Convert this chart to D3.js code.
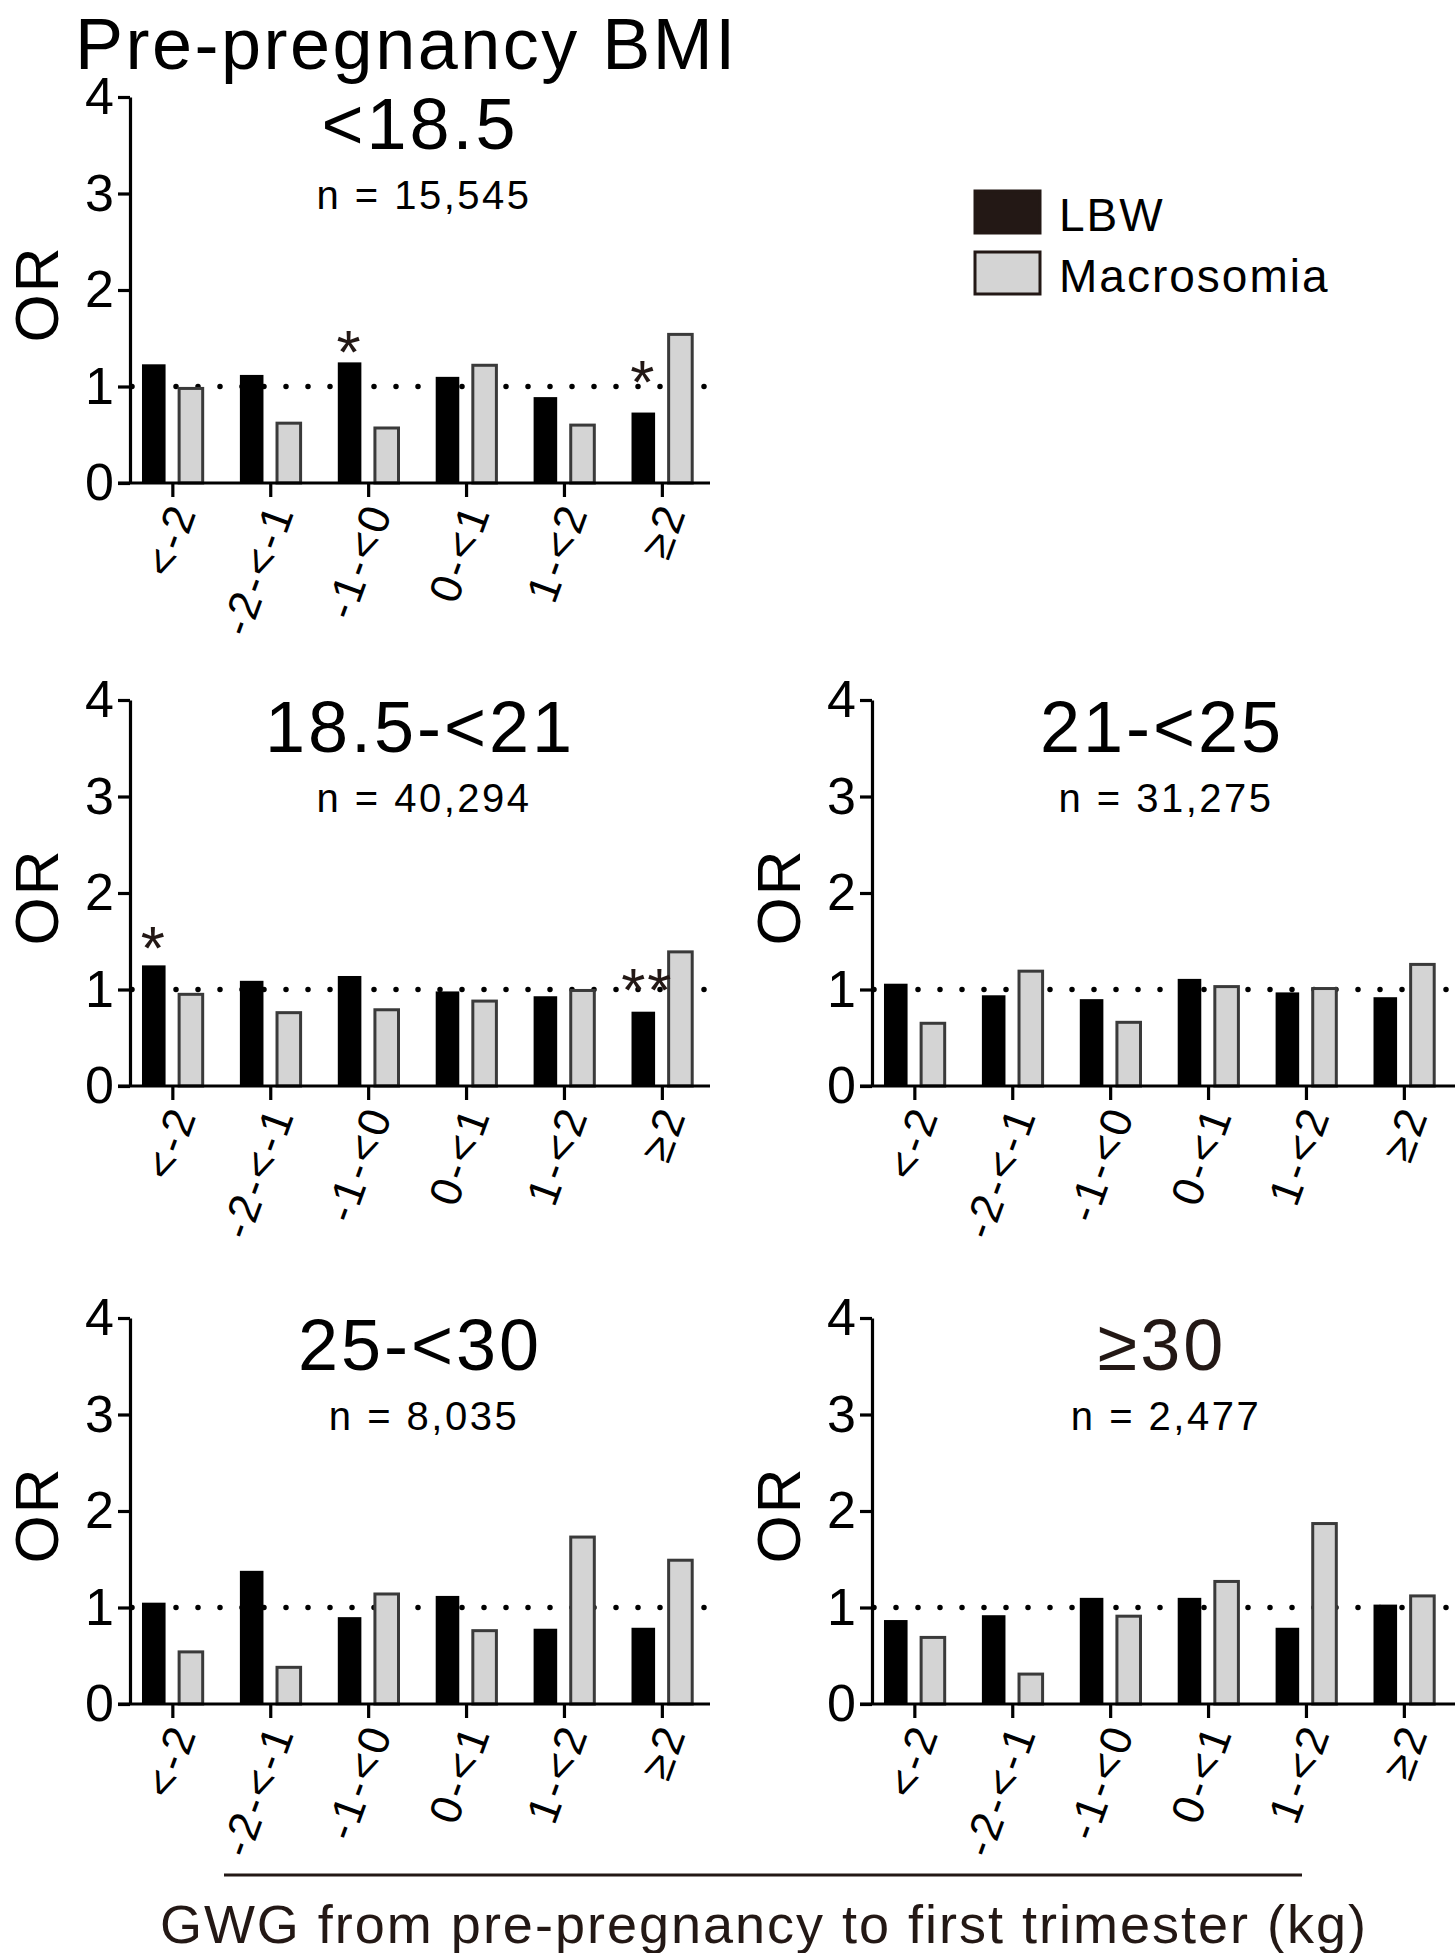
<!DOCTYPE html>
<html>
<head>
<meta charset="utf-8">
<script src="https://cdn.jsdelivr.net/npm/d3@7"></script>
<style>
  body { margin: 0; background: #fff; }
  text { font-family: "Liberation Sans", Arial, sans-serif; }
</style>
</head>
<body>
<svg id="chart" width="1455" height="1953"></svg>
<script>
// categories of gestational weight gain (kg)
var categories = ["<-2", "-2-<-1", "-1-<0", "0-<1", "1-<2", "≥2"];
var series = ["LBW", "Macrosomia"];
var yTicks = [0, 1, 2, 3, 4];

// one entry per BMI panel
var panelTitles = ["<18.5", "18.5-<21", "21-<25", "25-<30", "≥30"];
var panelN = ["n = 15,545", "n = 40,294", "n = 31,275", "n = 8,035", "n = 2,477"];

// odds ratios
var lbwOR = [
  [1.23, 1.12, 1.25, 1.10, 0.89, 0.73],
  [1.25, 1.09, 1.14, 0.98, 0.93, 0.77],
  [1.06, 0.94, 0.90, 1.11, 0.97, 0.92],
  [1.05, 1.38, 0.90, 1.12, 0.78, 0.79],
  [0.87, 0.92, 1.10, 1.10, 0.79, 1.03]
];
var macroOR = [
  [0.98, 0.62, 0.57, 1.22, 0.60, 1.54],
  [0.95, 0.76, 0.79, 0.88, 0.99, 1.39],
  [0.65, 1.19, 0.66, 1.03, 1.01, 1.26],
  [0.54, 0.38, 1.14, 0.76, 1.73, 1.49],
  [0.69, 0.31, 0.91, 1.27, 1.87, 1.12]
];

// significance marks: panel index, category, mark, OR level of the mark
var starPanel = [0, 0, 1, 1];
var starCat = ["-1-<0", "≥2", "<-2", "≥2"];
var starText = ["*", "*", "*", "**"];
var starLevel = [1.51, 1.2, 1.58, 1.15];

var svg = d3.select("#chart");
var W = 580, H = 386;
var origins = [[130, 97], [130, 700], [872, 700], [130, 1318], [872, 1318]];
var ink = "#231815";

var x = d3.scalePoint().domain(categories).range([0.073 * W, 0.917 * W]);
var step = x.step();
var xs = d3.scaleBand().domain(series).range([-0.31 * step, 0.31 * step]).paddingInner(0.365);
var y = d3.scaleLinear().domain([0, 4]).range([H, 0]);

panelTitles.forEach(function(title, p) {
  var g = svg.append("g").attr("transform", "translate(" + origins[p][0] + "," + origins[p][1] + ")");
  // right-hand panels run to the edge of the figure
  var xEnd = origins[p][0] > 500 ? 1455 - origins[p][0] : W;

  // dotted reference line at OR = 1
  g.append("line")
      .attr("x1", 2).attr("x2", xEnd)
      .attr("y1", y(1)).attr("y2", y(1))
      .attr("stroke", "#000")
      .attr("stroke-width", 5.5)
      .attr("stroke-linecap", "round")
      .attr("stroke-dasharray", "0 22");

  var rows = categories.map(function(c, i) {
    return [{cat: c, s: "LBW", v: lbwOR[p][i]}, {cat: c, s: "Macrosomia", v: macroOR[p][i]}];
  });

  g.selectAll(".bar")
    .data(d3.merge(rows))
    .join("rect")
      .attr("x", d => x(d.cat) + xs(d.s))
      .attr("width", xs.bandwidth())
      .attr("y", d => y(d.v))
      .attr("height", d => y(0) - y(d.v))
      .attr("fill", d => d.s == "LBW" ? "#000" : "#d4d4d4")
      .attr("stroke", d => d.s == "LBW" ? "none" : "#3a3a3a")
      .attr("stroke-width", 3);

  // y axis
  g.append("g")
      .call(d3.axisLeft(y).tickValues(yTicks).tickFormat(d3.format("d"))
          .tickSize(12).tickPadding(4).tickSizeOuter(0))
      .call(g => g.select(".domain").attr("stroke-width", 3.2))
      .call(g => g.selectAll(".tick line").attr("stroke-width", 3.2))
      .call(g => g.selectAll(".tick text")
          .attr("font-size", 52)
          .attr("font-family", "Liberation Sans, Arial, sans-serif")
          .attr("fill", "#000"));

  // x axis
  g.append("g")
      .attr("transform", "translate(0," + H + ")")
      .call(d3.axisBottom(x).tickSize(14).tickSizeOuter(0))
      .call(g => g.select(".domain").remove())
      .call(g => g.selectAll(".tick line").attr("stroke-width", 3.2))
      .call(g => g.selectAll(".tick text")
          .attr("font-size", 44)
          .attr("font-family", "Liberation Sans, Arial, sans-serif")
          .attr("letter-spacing", 3)
          .attr("fill", "#000")
          .attr("text-anchor", "end")
          .attr("y", 0)
          .attr("dy", "0.35em")
          .attr("transform", "translate(10,22) rotate(-70)"));
  g.append("line")
      .attr("x1", -12).attr("x2", xEnd)
      .attr("y1", H).attr("y2", H)
      .attr("stroke", "#000").attr("stroke-width", 3.2);

  // OR label
  g.append("text")
      .attr("transform", "translate(" + (-72) + "," + (H / 2 + 4) + ") rotate(-90)")
      .attr("text-anchor", "middle")
      .attr("font-size", 62)
      .attr("letter-spacing", 2)
      .text("OR");

  // panel title and sample size
  g.append("text")
      .attr("x", W / 2).attr("y", 52)
      .attr("text-anchor", "middle")
      .attr("font-size", 72)
      .attr("letter-spacing", 3)
      .attr("fill", p == 4 ? ink : "#000")
      .text(title);
  g.append("text")
      .attr("x", W / 2 + 4).attr("y", 112)
      .attr("text-anchor", "middle")
      .attr("font-size", 40)
      .attr("letter-spacing", 2.5)
      .text(panelN[p]);

  // significance stars
  starPanel.forEach(function(sp, k) {
    if (sp != p) return;
    g.append("text")
        .attr("x", x(starCat[k]) + xs("LBW") + xs.bandwidth() / 2 + (starText[k].length > 1 ? 4 : 0))
        .attr("y", y(starLevel[k]))
        .attr("dy", "0.58em")
        .attr("text-anchor", "middle")
        .attr("font-size", 62)
        .attr("letter-spacing", 2)
        .attr("fill", ink)
        .text(starText[k]);
  });
});

// overall title
svg.append("text")
    .attr("x", 75).attr("y", 69)
    .attr("font-size", 72)
    .attr("letter-spacing", 2.5)
    .text("Pre-pregnancy BMI");

// legend
var legend = svg.append("g").attr("transform", "translate(975,191)");
series.forEach(function(s, i) {
  legend.append("rect")
      .attr("x", 0).attr("y", i * 61)
      .attr("width", 65).attr("height", 42)
      .attr("fill", i == 0 ? ink : "#d4d4d4")
      .attr("stroke", ink)
      .attr("stroke-width", 3);
  legend.append("text")
      .attr("x", 84).attr("y", i * 61 + 40)
      .attr("font-size", 46)
      .attr("letter-spacing", 2)
      .text(s);
});

// shared x-axis label
svg.append("line")
    .attr("x1", 224).attr("x2", 1302)
    .attr("y1", 1875).attr("y2", 1875)
    .attr("stroke", ink).attr("stroke-width", 3);
svg.append("text")
    .attr("x", 764).attr("y", 1943)
    .attr("text-anchor", "middle")
    .attr("font-size", 54)
    .attr("letter-spacing", 2)
    .attr("fill", ink)
    .text("GWG from pre-pregnancy to first trimester (kg)");
</script>
</body>
</html>
